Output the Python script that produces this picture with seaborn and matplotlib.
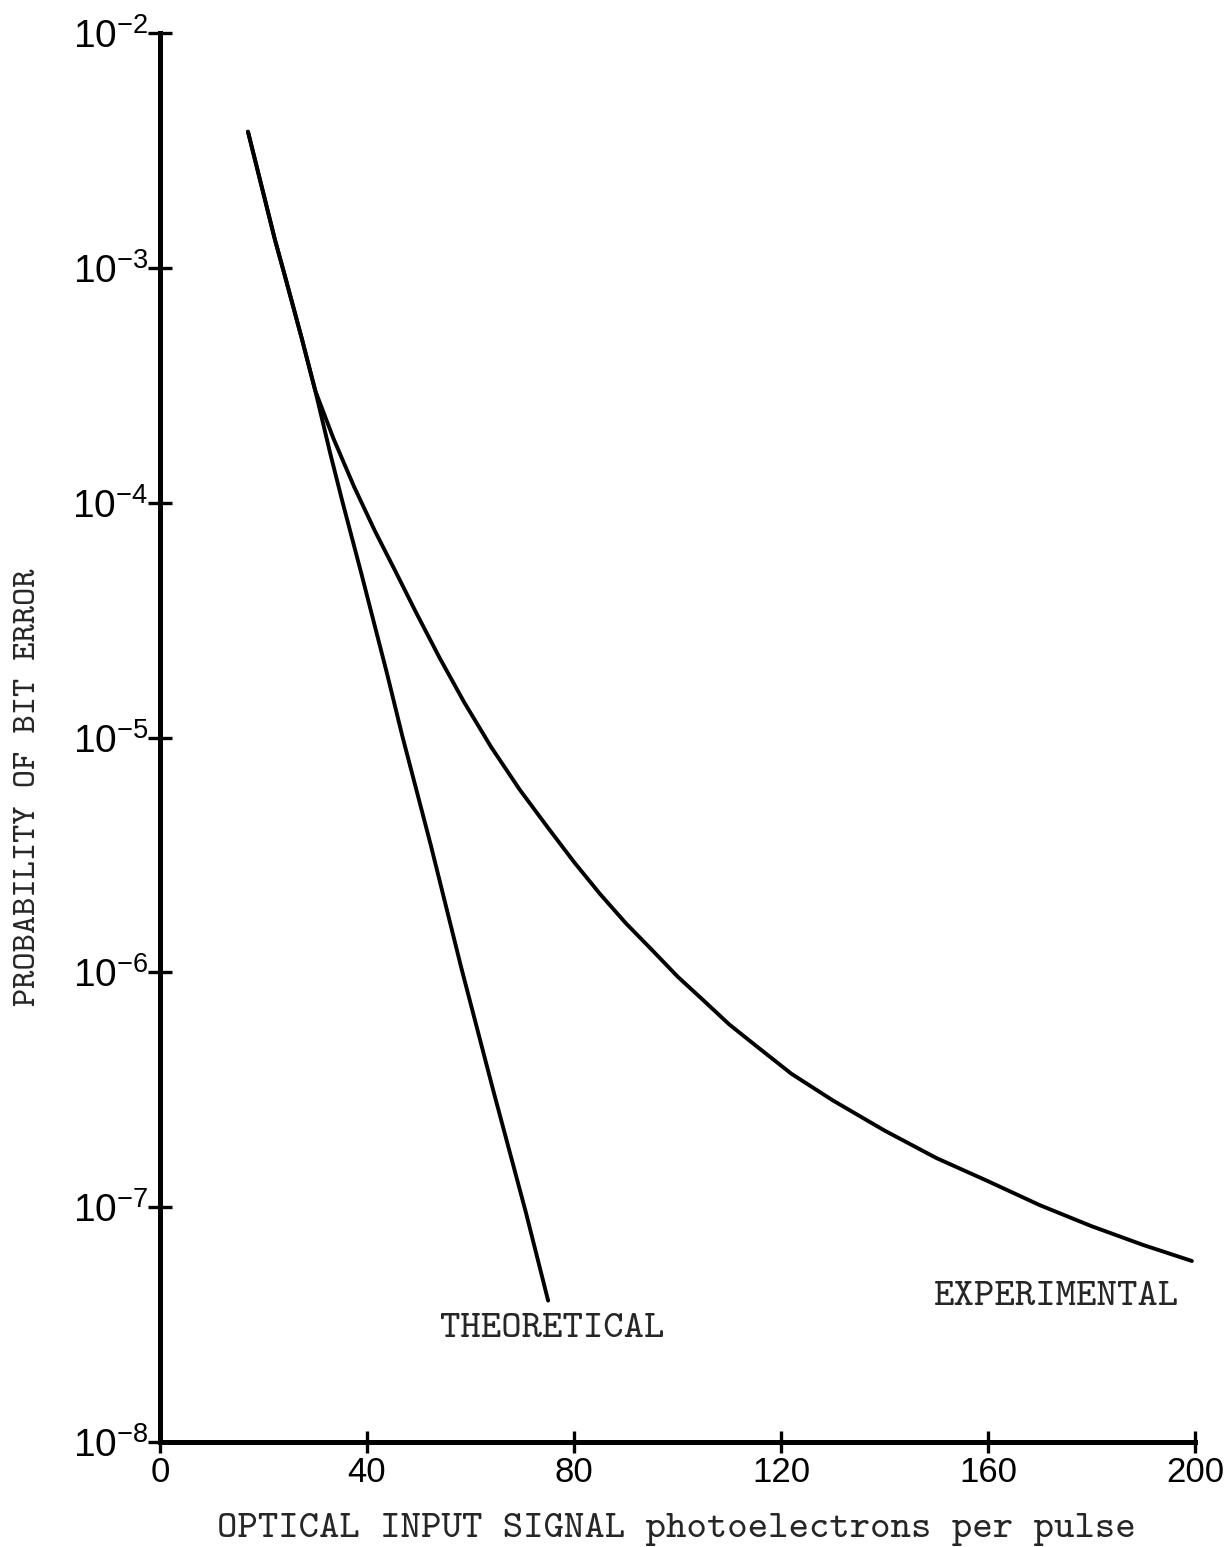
import matplotlib
matplotlib.use('Agg')
import matplotlib.pyplot as plt
import seaborn as sns
import pandas as pd
from matplotlib.ticker import NullLocator

# ---- data ----
theo_x = [17.0, 22.2, 24.1, 27.4, 30.0, 32.9, 35.2, 38.9, 43.9, 46.8, 52.3, 58.2, 64.3, 70.7, 75.0]
theo_y = [3.80e-3, 1.32e-3, 9.3e-4, 5.0e-4, 3.0e-4, 1.62e-4, 1.02e-4, 5.0e-5, 1.86e-5,
          1.02e-5, 3.5e-6, 1.05e-6, 3.2e-7, 9.5e-8, 4.0e-8]

exp_x = [17.0, 22.2, 24.1, 27.4, 30.0, 33.5, 37.5, 41.5, 45.5, 49.5, 54.0, 58.8, 64.0, 69.5,
         75.0, 80.0, 85.0, 90.0, 95.0, 100.0, 105.0, 110.0, 115.0, 122.0, 130.0, 140.0,
         150.0, 160.0, 170.0, 180.0, 190.0, 199.4]
exp_y = [3.80e-3, 1.32e-3, 9.3e-4, 5.0e-4, 3.0e-4, 1.88e-4, 1.17e-4, 7.6e-5, 5.1e-5, 3.4e-5,
         2.19e-5, 1.41e-5, 9.1e-6, 6.0e-6, 4.12e-6, 2.95e-6, 2.16e-6, 1.62e-6, 1.25e-6,
         9.6e-7, 7.6e-7, 6.0e-7, 4.9e-7, 3.7e-7, 2.85e-7, 2.12e-7, 1.62e-7, 1.29e-7,
         1.02e-7, 8.3e-8, 6.9e-8, 5.9e-8]

x_ticks = [0, 40, 80, 120, 160, 200]
x_tick_labels = ['0', '40', '80', '120', '160', '200']
y_ticks = [1e-8, 1e-7, 1e-6, 1e-5, 1e-4, 1e-3, 1e-2]
y_tick_labels = [r'$10^{-8}$', r'$10^{-7}$', r'$10^{-6}$', r'$10^{-5}$',
                 r'$10^{-4}$', r'$10^{-3}$', r'$10^{-2}$']

x_label = 'OPTICAL INPUT SIGNAL photoelectrons per pulse'
y_label = 'PROBABILITY OF BIT ERROR'
theo_label = 'THEORETICAL'
exp_label = 'EXPERIMENTAL'

# ---- style ----
sns.set_style('ticks')
plt.rcParams['font.family'] = ['DejaVu Sans']
plt.rcParams['mathtext.fontset'] = 'custom'
plt.rcParams['mathtext.rm'] = 'Liberation Sans'
plt.rcParams['mathtext.it'] = 'Liberation Sans:italic'
plt.rcParams['mathtext.bf'] = 'Liberation Sans:bold'

TYPE_FONT = ['cmtt10', 'Liberation Mono']
NARROW_FONT = ['Liberation Sans Narrow', 'Liberation Sans']

W, H = 1225, 1547
fig = plt.figure(figsize=(W / 100, H / 100), dpi=100)
ax = fig.add_axes([160 / W, 105 / H, 1035 / W, 1409 / H])

df_t = pd.DataFrame({'x': theo_x, 'y': theo_y})
df_e = pd.DataFrame({'x': exp_x, 'y': exp_y})
sns.lineplot(data=df_t, x='x', y='y', color='black', linewidth=2.8, ax=ax,
             estimator=None, sort=False)
sns.lineplot(data=df_e, x='x', y='y', color='black', linewidth=2.8, ax=ax,
             estimator=None, sort=False)

ax.set_yscale('log')
ax.set_xlim(0, 200)
ax.set_ylim(1e-8, 1e-2)
ax.yaxis.set_minor_locator(NullLocator())
ax.set_xticks(x_ticks)
ax.set_xticklabels(x_tick_labels, family=NARROW_FONT, fontsize=25)
ax.set_yticks(y_ticks)
ax.set_yticklabels(y_tick_labels, fontsize=28)

sns.despine(ax=ax)
for s in ['left', 'bottom']:
    ax.spines[s].set_linewidth(3.6)
    ax.spines[s].set_color('black')

ax.tick_params(axis='y', which='major', left=True, direction='inout', length=17,
               width=2.4, pad=0, colors='black')
ax.tick_params(axis='x', which='major', bottom=True, direction='inout', length=16,
               width=2.4, pad=2, colors='black')

ax.set_xlabel(x_label, family=TYPE_FONT, fontsize=28)
ax.set_ylabel(y_label, family=TYPE_FONT, fontsize=25)
ax.xaxis.set_label_coords((676 - 160) / 1035, (1442 - 1530) / 1409)
ax.xaxis.label.set_va('center')
ax.yaxis.set_label_coords((28 - 160) / 1035, (1442 - 787) / 1409)
ax.yaxis.label.set_va('center')

ax.text(75.7, 3.0e-8, theo_label, ha='center', va='center', family=TYPE_FONT, fontsize=28)
ax.text(173.1, 4.14e-8, exp_label, ha='center', va='center', family=TYPE_FONT, fontsize=28)

fig.savefig('out.png', dpi=100, facecolor='white')
